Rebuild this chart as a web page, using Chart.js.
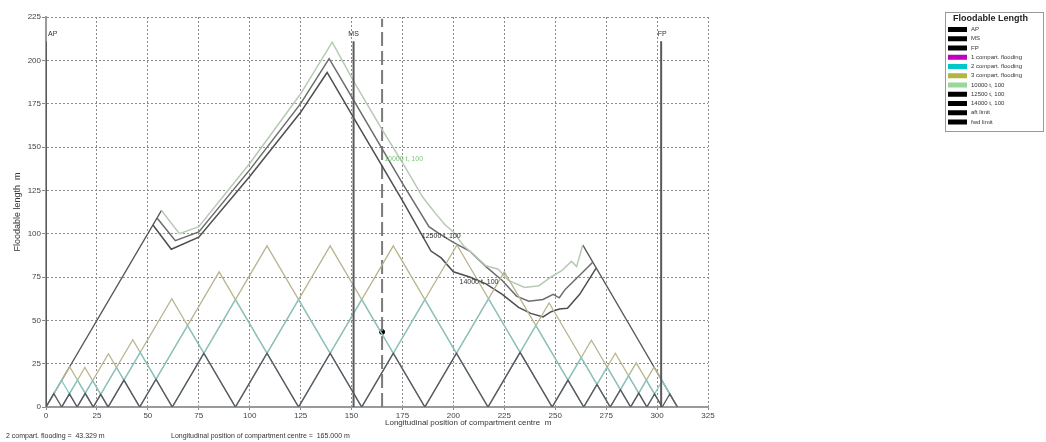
<!DOCTYPE html>
<html>
<head>
<meta charset="utf-8">
<script src="https://cdn.jsdelivr.net/npm/chart.js@4"></script>
<style>
  html, body { margin: 0; padding: 0; background: #fff; }
  #wrap { position: relative; width: 1046px; height: 442px; }
</style>
</head>
<body>
<div id="wrap"><canvas id="floodChart" width="1046" height="442"></canvas></div>
<script>
// bulkhead positions, m from AP
const bulkheads = [0, 7.7, 15.3, 23.2, 30.5, 46, 62, 93, 124, 155, 186, 217, 248.5, 264, 277, 287, 295, 302.5, 310];

// AP / MS / FP marks
const markNames = ['AP', 'MS', 'FP'];
const markX = [0, 151, 302];
const markTop = 211;

// floodable length curves (permeability 100)
const x10000 = [56.7, 65.5, 75, 100, 125, 140.5, 151, 165, 175, 185, 191, 196, 200, 205, 210, 216, 222, 227, 235, 242, 248, 253, 258, 260.5, 263.5];
const y10000 = [113.4, 100, 104, 140.5, 180.7, 210.5, 188, 160, 141, 121, 112, 105, 101, 93, 88, 81.5, 79.5, 73, 69, 70, 75, 78.5, 84, 81, 93.5];
const x12500 = [54.5, 63.5, 75, 100, 125, 139, 151, 175, 188, 193, 200, 208, 216, 224, 231, 237, 244, 249, 252, 255, 262, 268.3];
const y12500 = [109, 96, 101, 136.8, 175, 201, 177, 129, 104, 100, 95, 90, 81, 73, 64, 61, 62, 65, 63, 68, 76, 83.4];
const x14000 = [52.5, 61.5, 75, 100, 125, 138, 151, 175, 189, 194, 200, 208, 216, 224, 232, 238, 244, 248, 252, 256, 262, 270];
const y14000 = [105, 91, 98, 133, 170, 193, 167, 119, 90, 86, 78, 75, 71, 65, 57.5, 54, 52, 55, 56.5, 57, 65, 80];

// end limits
const aftLimitX = [0, 56.7];
const aftLimitY = [0, 113.4];
const fwdLimitX = [263.5, 310];
const fwdLimitY = [93.5, 0];

// selected compartment
const selCentre = 165.0;
const selLength = 43.329;

const xTicks = [0, 25, 50, 75, 100, 125, 150, 175, 200, 225, 250, 275, 300, 325];
const yTicks = [0, 25, 50, 75, 100, 125, 150, 175, 200, 225];

function pts(xs, ys) {
  return xs.map((x, i) => ({x: x, y: ys[i]}));
}

// n-compartment triangles between bulkheads
function triangles(n) {
  const out = [];
  for (let i = 0; i + n < bulkheads.length; i++) {
    const a = bulkheads[i], b = bulkheads[i + n];
    out.push({x: a, y: 0}, {x: (a + b) / 2, y: b - a}, {x: b, y: 0}, {x: b, y: null});
  }
  return out;
}

const FONT = "'Liberation Sans', Arial, sans-serif";

function line(label, data, color, width, swatch) {
  return {
    label: label,
    data: data,
    borderColor: color,
    borderWidth: width,
    pointRadius: 0,
    fill: false,
    tension: 0,
    legendColor: swatch
  };
}

const datasets = markNames.map((n, i) =>
  line(n, [{x: markX[i], y: 0}, {x: markX[i], y: markTop}], '#5a5a5a', 2, '#000'));
datasets.push(line('1 compart. flooding', triangles(1), '#5c5460', 1.3, '#c000c0'));
datasets.push(line('2 compart. flooding', triangles(2), '#86c6c6', 1.3, '#00c8c8'));
datasets.push(line('3 compart. flooding', triangles(3), '#b9b58e', 1.3, '#b4b440'));
datasets.push(line('10000 t, 100', pts(x10000, y10000), '#b7c9b5', 1.5, '#98d898'));
datasets.push(line('12500 t, 100', pts(x12500, y12500), '#6c6c6c', 1.5, '#000'));
datasets.push(line('14000 t, 100', pts(x14000, y14000), '#4e4e4e', 1.5, '#000'));
datasets.push(line('aft limit', pts(aftLimitX, aftLimitY), '#555', 1.3, '#000'));
datasets.push(line('fwd limit', pts(fwdLimitX, fwdLimitY), '#555', 1.3, '#000'));
// selected compartment centre
const sel = line('centre', [{x: selCentre, y: 0}, {x: selCentre, y: 224}], '#7a7a7a', 2, null);
sel.borderDash = [14, 5];
datasets.push(sel);
datasets.push({
  label: 'point', data: [{x: selCentre, y: selLength}], showLine: false,
  pointRadius: 2.5, pointBackgroundColor: '#000', pointBorderColor: '#000', legendColor: null
});

const notes = [
  {text: 'AP', x: 0, y: 215, align: 'left', dx: 2, color: '#333'},
  {text: 'MS', x: 151, y: 215, align: 'center', dx: 0, color: '#333'},
  {text: 'FP', x: 302, y: 215, align: 'center', dx: 1, color: '#333'},
  {text: '10000 t, 100', x: 166, y: 143, align: 'left', dx: 0, color: '#7cc47c'},
  {text: '12500 t, 100', x: 184.5, y: 98.6, align: 'left', dx: 0, color: '#333'},
  {text: '14000 t, 100', x: 203, y: 72, align: 'left', dx: 0, color: '#333'}
];

const notePlugin = {
  id: 'notes',
  afterDraw(chart) {
    const {ctx, scales: {x, y}} = chart;
    ctx.save();
    ctx.font = '7px ' + FONT;
    ctx.textBaseline = 'middle';
    notes.forEach(n => {
      ctx.fillStyle = n.color;
      ctx.textAlign = n.align;
      ctx.fillText(n.text, x.getPixelForValue(n.x) + n.dx, y.getPixelForValue(n.y));
    });
    ctx.fillStyle = '#333';
    ctx.textAlign = 'left';
    ctx.font = '8px ' + FONT;
    ctx.fillText('Longitudinal position of compartment centre  m', 385, 423);
    ctx.font = '7px ' + FONT;
    ctx.fillText('2 compart. flooding =  ' + selLength.toFixed(3) + ' m', 6, 436);
    ctx.fillText('Longitudinal position of compartment centre =  ' + selCentre.toFixed(3) + ' m', 171, 436);
    ctx.restore();
  }
};

const legendPlugin = {
  id: 'boxLegend',
  afterDraw(chart) {
    const ctx = chart.ctx;
    const items = chart.data.datasets.filter(d => d.legendColor);
    const bx = 945, by = 12, bw = 98, bh = 119;
    ctx.save();
    ctx.fillStyle = '#fff';
    ctx.fillRect(bx, by, bw, bh);
    ctx.strokeStyle = '#999';
    ctx.lineWidth = 1;
    ctx.strokeRect(bx + 0.5, by + 0.5, bw, bh);
    ctx.fillStyle = '#222';
    ctx.font = 'bold 9px ' + FONT;
    ctx.textBaseline = 'middle';
    ctx.textAlign = 'left';
    ctx.fillText('Floodable Length', bx + 8, by + 7);
    ctx.font = '6px ' + FONT;
    items.forEach((d, i) => {
      const yy = by + 17.5 + i * 9.25;
      ctx.fillStyle = d.legendColor;
      ctx.fillRect(bx + 3, yy - 2.5, 19, 5);
      ctx.fillStyle = '#333';
      ctx.fillText(d.label, bx + 26, yy);
    });
    ctx.restore();
  }
};

new Chart(document.getElementById('floodChart').getContext('2d'), {
  type: 'line',
  data: {datasets: datasets},
  options: {
    responsive: false,
    animation: false,
    devicePixelRatio: 1,
    events: [],
    layout: {padding: {left: 0, top: 17, right: 338, bottom: 0}},
    plugins: {legend: {display: false}, tooltip: {enabled: false}},
    scales: {
      x: {
        type: 'linear', min: 0, max: 325,
        afterBuildTicks(s) { s.ticks = xTicks.map(v => ({value: v})); },
        afterFit(s) { s.height = 35; },
        ticks: {font: {size: 8, family: FONT}, color: '#444', padding: 1, maxRotation: 0},
        grid: {color: '#8a8a8a', lineWidth: 1, tickLength: 3, tickColor: '#888'},
        border: {color: '#9a9a9a', width: 2, dash: [2, 2]}
      },
      y: {
        type: 'linear', min: 0, max: 225,
        afterBuildTicks(s) { s.ticks = yTicks.map(v => ({value: v})); },
        afterFit(s) { s.width = 46; },
        ticks: {font: {size: 8, family: FONT}, color: '#444', padding: 1},
        grid: {color: '#8a8a8a', lineWidth: 1, tickLength: 4, tickColor: '#888'},
        border: {color: '#9a9a9a', width: 2, dash: [2, 2]},
        title: {display: true, text: 'Floodable length  m', font: {size: 9, family: FONT}, color: '#333', padding: {top: 12, bottom: 0}}
      }
    }
  },
  plugins: [notePlugin, legendPlugin]
});
</script>
</body>
</html>
